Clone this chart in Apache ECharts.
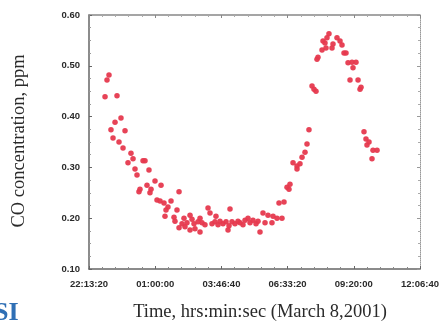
<!DOCTYPE html>
<html>
<head>
<meta charset="utf-8">
<script src="https://cdn.jsdelivr.net/npm/echarts@6/dist/echarts.min.js"></script>
<style>html,body{margin:0;padding:0;background:#fff}#c{width:444px;height:328px}</style>
</head>
<body>
<div id="c"></div>
<script>
// Time in seconds after midnight of March 7 (80000 s = 22:13:20)
const timeSec = [82420,82720,83020,83320,83630,83930,84230,84530,84830,85140,85440,85890,86340,86650,86950,87250,87550,87700,88160,88460,88760,89060,89210,89370,89970,90270,90730,90880,91330,91480,91630,91930,92390,92840,92990,93290,93600,93600,94050,94350,94500,94800,95260,95260,95560,95860,96010,96470,96770,96770,97070,97520,97980,98280,99180,98580,99030,99490,99790,100240,100700,101000,101150,101300,101600,102050,102510,102810,103260,103570,104020,104320,104770,105230,105530,105830,106280,106590,107040,107640,107800,108400,109150,108700,109460,109910,110210,110360,110820,111420,111420,111870,112180,112630,112930,113230,113690,113990,114290,114440,114590,115200,115350,115650,115800,115950,116250,116710,116860,117460,117920,118220,118520,118820,119130,119430,119730,119880,120330,120640,120940,121090,121540,121840,121990,122300,122900,123510,122750];
const coPpm = [0.439,0.472,0.482,0.374,0.358,0.389,0.441,0.350,0.397,0.338,0.372,0.309,0.328,0.317,0.297,0.285,0.252,0.257,0.313,0.313,0.265,0.295,0.250,0.257,0.273,0.236,0.234,0.265,0.230,0.204,0.216,0.222,0.234,0.202,0.194,0.216,0.252,0.181,0.189,0.200,0.183,0.191,0.206,0.177,0.198,0.189,0.179,0.193,0.200,0.173,0.191,0.187,0.220,0.210,0.204,0.189,0.193,0.187,0.194,0.189,0.193,0.177,0.185,0.218,0.193,0.189,0.194,0.191,0.187,0.196,0.200,0.191,0.196,0.189,0.194,0.173,0.210,0.191,0.206,0.191,0.204,0.200,0.200,0.230,0.232,0.261,0.257,0.267,0.309,0.303,0.297,0.307,0.320,0.330,0.346,0.374,0.460,0.454,0.450,0.513,0.517,0.531,0.549,0.545,0.535,0.555,0.563,0.535,0.543,0.555,0.549,0.541,0.525,0.525,0.506,0.472,0.507,0.496,0.507,0.472,0.454,0.458,0.370,0.356,0.344,0.350,0.334,0.334,0.317];
const xTickLabels = ['22:13:20','01:00:00','03:46:40','06:33:20','09:20:00','12:06:40'];
const yTickLabels = ['0.10','0.20','0.30','0.40','0.50','0.60'];
const xTitle = 'Time, hrs:min:sec (March 8,2001)';
const yTitle = 'CO concentration, ppm';

const points = timeSec.map((t, i) => [t, coPpm[i]]);
const chart = echarts.init(document.getElementById('c'), null, {renderer: 'canvas'});
const labelFont = {color: '#2a2a2a', fontSize: 9.5, fontWeight: 'bold', fontFamily: 'Liberation Sans, Arial, sans-serif'};
const axisLineCol = '#666';
chart.setOption({
  animation: false,
  backgroundColor: '#fff',
  grid: {left: 89, right: 24, top: 15, bottom: 59},
  xAxis: [{
    type: 'value', min: 80000, max: 130000, interval: 10000, position: 'bottom',
    axisLine: {lineStyle: {color: axisLineCol, width: 1.5}},
    axisTick: {show: true, inside: true, length: 3, lineStyle: {color: axisLineCol}},
    minorTick: {show: true, splitNumber: 5, length: 2, lineStyle: {color: '#888'}},
    splitLine: {show: false},
    axisLabel: Object.assign({margin: 10, formatter: (v) => xTickLabels[Math.round((v - 80000) / 10000)]}, labelFont)
  }, {
    type: 'value', min: 80000, max: 130000, interval: 10000, position: 'top',
    axisLine: {lineStyle: {color: '#888', width: 1.5}},
    axisTick: {show: true, inside: true, length: 3, lineStyle: {color: '#888'}},
    minorTick: {show: true, splitNumber: 5, length: 2, lineStyle: {color: '#aaa'}},
    splitLine: {show: false}, axisLabel: {show: false}
  }],
  yAxis: [{
    type: 'value', min: 0.1, max: 0.6, interval: 0.1, position: 'left',
    axisLine: {show: true, lineStyle: {color: axisLineCol, width: 1.5}},
    axisTick: {show: true, inside: true, length: 3, lineStyle: {color: axisLineCol}},
    minorTick: {show: true, splitNumber: 4, length: 2, lineStyle: {color: '#999'}},
    splitLine: {show: false},
    axisLabel: Object.assign({margin: 9, formatter: (v) => yTickLabels[Math.round((v - 0.1) * 10)]}, labelFont)
  }, {
    type: 'value', min: 0.1, max: 0.6, interval: 0.1, position: 'right',
    axisLine: {show: true, lineStyle: {color: '#999', width: 1, type: 'dotted'}},
    axisTick: {show: true, inside: true, length: 3, lineStyle: {color: '#999'}},
    minorTick: {show: true, splitNumber: 4, length: 2, lineStyle: {color: '#aaa'}},
    splitLine: {show: false}, axisLabel: {show: false}
  }],
  series: [{
    type: 'scatter', xAxisIndex: 0, yAxisIndex: 0, data: points,
    symbol: 'circle', symbolSize: 5.5,
    itemStyle: {color: '#e6394e', opacity: 0.95}
  }],
  graphic: [
    {type: 'text', x: 19, y: 141, rotation: Math.PI / 2,
     style: {text: yTitle, font: '18.5px "Liberation Serif", "Times New Roman", serif', fill: '#2a2a2a', align: 'center', verticalAlign: 'middle'}},
    {type: 'text', x: 260, y: 312,
     style: {text: xTitle, font: '18.5px "Liberation Serif", "Times New Roman", serif', fill: '#2a2a2a', align: 'center', verticalAlign: 'middle'}},
    {type: 'text', x: -6, y: 313,
     style: {text: 'SI', font: 'bold 26px "Liberation Serif", serif', fill: '#2f6fb5', align: 'left', verticalAlign: 'middle'}}
  ]
});
</script>
</body>
</html>
